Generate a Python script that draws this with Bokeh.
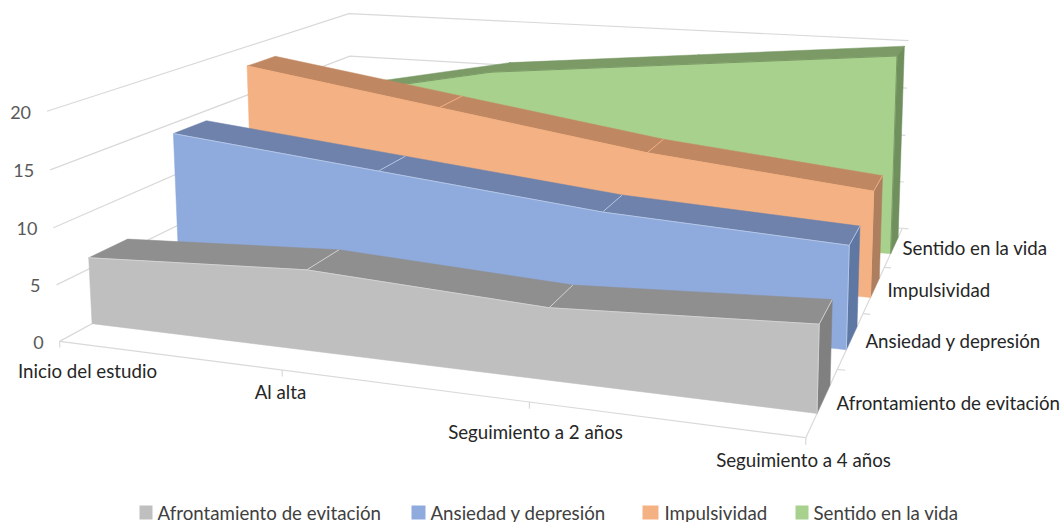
from bokeh.plotting import figure
from bokeh.models import Range1d
from bokeh.core.properties import value
from bokeh.embed import file_html
from bokeh.resources import INLINE
import numpy as np

categories = ["Inicio del estudio", "Al alta", "Seguimiento a 2 años", "Seguimiento a 4 años"]
series_names = ["Afrontamiento de evitación", "Ansiedad y depresión", "Impulsividad", "Sentido en la vida"]
afrontamiento = [6, 7, 6, 7]
ansiedad = [14, 12, 10, 9]
impulsividad = [18, 15, 12, 10]
sentido = [12, 16, 18, 20]
value_ticks = [0, 5, 10, 15, 20]

front_colors = ["#BFBFBF", "#8FAADC", "#F4B183", "#A9D18E"]
top_colors = ["#8F8F8F", "#6E82AB", "#C08862", "#7B9A66"]
side_colors = ["#808080", "#5F77A3", "#AD7F5E", "#6F8F5C"]
edge_colors = ["#D2D2D2", "#B4C7E7", "#F4B183", "#7B9A66"]

# camera of the 3D chart: (category, series depth, value) -> page pixel
CAM = np.array([[208.4621, 107.2295, -0.68209, 59.0695],
                [10.23723, -22.59482, -11.63271, 340.85],
                [-0.050035, 0.096172, -0.00117575, 1.0]])
def pr(t, d, v):
    h = CAM @ np.array([t, d, v, 1.0])
    return h[0] / h[2], h[1] / h[2]
def poly(pts):
    xy = [pr(*q) for q in pts]
    return [a for a, _ in xy], [b for _, b in xy]

p = figure(width=1060, height=522, x_range=Range1d(0, 1060), y_range=Range1d(522, 0),
           toolbar_location=None, output_backend="svg", min_border=0, outline_line_color=None)
p.axis.visible = False
p.grid.visible = False
p.background_fill_color = "white"

GRID = "#D9D9D9"
xs, ys = [], []
nd = len(series_names)
nt = len(categories) - 1
for v in value_ticks:
    a, b = poly([(0, 0, v), (0, nd, v), (nt, nd, v)])
    xs.append(a); ys.append(b)
a, b = poly([(0, 0, 0), (nt, 0, 0), (nt, nd, 0)]); xs.append(a); ys.append(b)
for t in range(nt + 1):
    a, b = poly([(t, 0, 0), (t, 0, -0.55)]); xs.append(a); ys.append(b)
for d in range(1, nd + 1):
    a, b = poly([(nt, d, 0), (nt + 0.03, d, 0)]); xs.append(a); ys.append(b)
p.multi_line(xs, ys, line_color=GRID, line_width=1.2)

GAP_F, GAP_B = 0.33, 0.75
all_series = [afrontamiento, ansiedad, impulsividad, sentido]
for i in reversed(range(nd)):
    vals = all_series[i]
    df, db = i + GAP_F, i + GAP_B
    tx, ty = [], []
    for t in range(nt):
        a, b = poly([(t, df, vals[t]), (t + 1, df, vals[t + 1]), (t + 1, db, vals[t + 1]), (t, db, vals[t])])
        tx.append(a); ty.append(b)
    p.patches(tx, ty, fill_color=top_colors[i], line_color=top_colors[i], line_width=0.5)
    a, b = poly([(nt, df, 0), (nt, db, 0), (nt, db, vals[nt]), (nt, df, vals[nt])])
    p.patch(a, b, fill_color=side_colors[i], line_color=side_colors[i], line_width=0.5)
    pts = [(t, df, vals[t]) for t in range(nt + 1)] + [(nt, df, 0), (0, df, 0)]
    a, b = poly(pts)
    p.patch(a, b, fill_color=front_colors[i], line_color=front_colors[i], line_width=0.5)
    ex, ey = [], []
    a, b = poly([(t, df, vals[t]) for t in range(nt + 1)] + [(nt, db, vals[nt])]); ex.append(a); ey.append(b)
    a, b = poly([(nt, df, vals[nt]), (nt, df, 0)]); ex.append(a); ey.append(b)
    for t in range(1, nt):
        a, b = poly([(t, df, vals[t]), (t, db, vals[t])]); ex.append(a); ey.append(b)
    p.multi_line(ex, ey, line_color=edge_colors[i], line_width=1)

FONT = value("Lato")
vx, vy = zip(*[pr(0, 0, v) for v in value_ticks])
p.text(list(vx), list(vy), text=[str(v) for v in value_ticks], text_align="right", text_baseline="middle",
       x_offset=-16, y_offset=1, text_font=FONT, text_font_size="18px", text_color="#595959")
cat_x = [87, 280, 535, 803]
cat_y = [370, 391, 431, 459]
p.text(cat_x, cat_y, text=categories, text_align="center", text_baseline="middle",
       text_font=FONT, text_font_size="18.7px", text_color="#262626")
ser_x = [836, 865, 887, 902]
ser_y = [402, 340, 289, 247]
p.text(ser_x, ser_y, text=series_names, text_align="left", text_baseline="middle",
       text_font=FONT, text_font_size="18.7px", text_color="#262626")
leg_sw = [139, 411, 642, 795]
leg_sw_w = [13, 14, 16, 13]
leg_tx = [157, 430, 664, 813]
leg_y = 512
p.quad(left=leg_sw, right=[a + b for a, b in zip(leg_sw, leg_sw_w)], top=[leg_y - 7] * 4, bottom=[leg_y + 7] * 4,
       fill_color=front_colors, line_color=None)
p.text(leg_tx, [leg_y] * 4, text=series_names, text_align="left", text_baseline="middle",
       text_font=FONT, text_font_size="18.7px", text_color="#404040")

open("out.html", "w").write(file_html(p, INLINE))
